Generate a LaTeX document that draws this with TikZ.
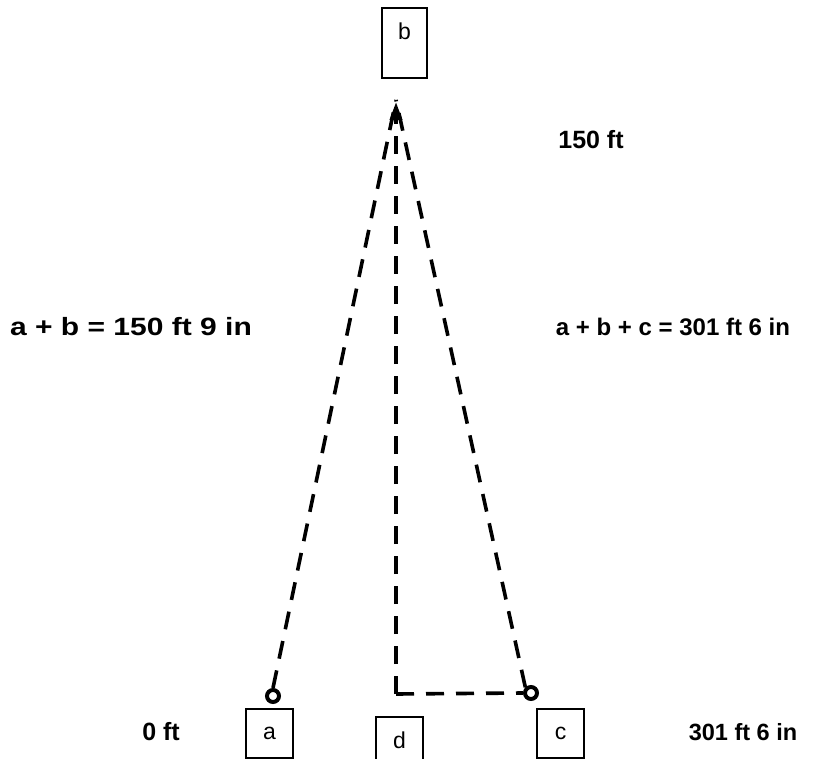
\documentclass[tikz,border=0pt]{standalone}
\usepackage{fontspec}
\setmainfont{Liberation Sans}
\usetikzlibrary{arrows.meta}
\begin{document}
\begin{tikzpicture}[x=1pt,y=-1pt,
  boxnode/.style={draw,line width=2pt,inner sep=0pt,font=\fontsize{23}{26}\selectfont},
  lbl/.style={font=\fontsize{#1}{28}\selectfont\bfseries,inner sep=0pt},
  lbl/.default=25,
  dline/.style={line width=3.6pt,dash pattern=on 18pt off 12pt},
  ring/.style={circle,draw,line width=4pt,minimum size=12pt,inner sep=0pt}]
\useasboundingbox (0,0) rectangle (819,759);
\fill[white] (0,0) rectangle (819,759);
% boxes
\node[boxnode,minimum width=45pt,minimum height=70pt,anchor=north west] (b) at (381,7) {};
\node at ([yshift=-24pt]b.north) (bt) {\fontsize{23}{26}\selectfont b};
\node[boxnode,minimum width=47pt,minimum height=49pt,anchor=north west] (a) at (245,708) {a};
\node[boxnode,minimum width=47pt,minimum height=49pt,anchor=north west] (c) at (536,708) {c};
\node[boxnode,minimum width=47pt,minimum height=60pt,anchor=north west] (d) at (375,716) {};
\node at ([yshift=-24pt]d.north) (dt) {\fontsize{23}{26}\selectfont d};
% points
\coordinate (apex) at (396,100);
\node[ring] (pa) at (273,696) {};
\node[ring] (pc) at (531,693) {};
\coordinate (corner) at (396,694);
% lines
\draw[dline] (pa.north) -- (apex);
\draw[dline] (pc.north west) -- (apex);
\draw[dline] (corner) -- (pc.west);
\draw[dline,-{Triangle[length=18pt,width=12pt]}] (corner) -- ([yshift=-2pt]apex);
% labels
\node[lbl] (l150) at (591,140) {150 ft};
\node[lbl=25] (lab) at (131,327) {\scalebox{1.2}[1]{a + b = 150 ft 9 in}};
\node[lbl=24] (labc) at (673,327) {a + b + c = 301 ft 6 in};
\node[lbl] (l0) at (161,732) {0 ft};
\node[lbl=23.5] (l301) at (743,732) {301 ft 6 in};
\end{tikzpicture}
\end{document}
